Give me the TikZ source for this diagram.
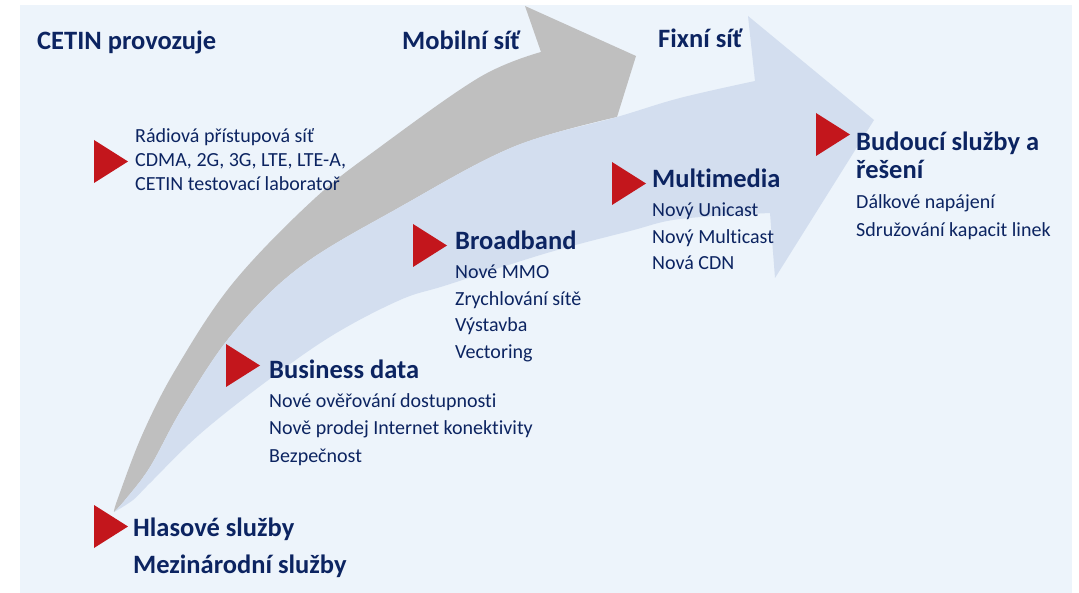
\documentclass[tikz,border=0pt]{standalone}
\usepackage{fontspec}
\setmainfont{Carlito}[Ligatures=NoCommon]
\definecolor{bgblue}{HTML}{EDF4FB}
\definecolor{arrblue}{HTML}{D3DEEF}
\definecolor{arrgray}{HTML}{BFBFBF}
\definecolor{markred}{HTML}{C3161C}
\definecolor{navy}{HTML}{0C2461}
\tikzset{
  head/.style={anchor=base west, inner sep=0pt, text=navy, font=\bfseries\fontsize{26.5}{30}\selectfont},
  item/.style={anchor=base west, inner sep=0pt, text=navy, font=\fontsize{20}{24}\selectfont},
}
\newcommand{\redtri}[2]{\fill[markred] (#1,#2) -- ++(34,21.5) -- ++(-34,21.5) -- cycle;}
\begin{document}
\begin{tikzpicture}[x=1pt,y=-1pt]
\useasboundingbox (0,0) rectangle (1079,593);
\fill[white] (0,0) rectangle (1079,593);
\fill[bgblue] (20,5) rectangle (1072,593);
% gray arrow
\fill[arrgray] (114,512) -- plot[smooth, tension=0.6] coordinates {(114,512) (118,498) (143,433) (177,367) (233,283) (313,200) (380,147) (480,77) (541,52)}
  -- (525,6) -- (636,56) -- (617,117)
  -- plot[smooth, tension=0.6] coordinates {(617,117) (513,147) (400,207) (300,267) (233,333) (183,407) (150,467) (125,500) (114,512)} -- cycle;
% blue arrow
\fill[arrblue] (114,512) -- plot[smooth, tension=0.6] coordinates {(114,512) (125,500) (150,467) (183,407) (233,333) (300,267) (400,207) (513,147) (617,117) (680,98) (755,81)}
  -- (748,16) -- (874,120) -- (775,278) -- (770,213)
  -- plot[smooth, tension=0.6] coordinates {(770,213) (680,219) (630,231) (547,253) (447,285) (400,300) (333,335) (267,381) (200,434) (150,483) (133,500) (114,512)} -- cycle;
% red markers
\redtri{94}{140}
\redtri{94}{505}
\redtri{226}{344}
\redtri{413}{224}
\redtri{612}{162}
\redtri{816}{113}
% top headings
\node[head] (cetin) at (37,50) {CETIN provozuje};
\node[head] (mobil) at (402,50) {Mobilní síť};
\node[head] (fix) at (658,48) {Fixní síť};
% radio
\node[item] (r1) at (135,143) {Rádiová přístupová síť};
\node[item] (r2) at (135,167) {CDMA, 2G, 3G, LTE, LTE-A,};
\node[item] (r3) at (135,191) {CETIN testovací laboratoř};
% business data
\node[head] (bd) at (269,379) {Business data};
\node[item] (bd1) at (269,408) {Nové ověřování dostupnosti};
\node[item] (bd2) at (269,435) {Nově prodej Internet konektivity};
\node[item] (bd3) at (269,462) {Bezpečnost};
% broadband
\node[head] (bb) at (455,250) {Broadband};
\node[item] (bb1) at (455,279) {Nové MMO};
\node[item] (bb2) at (455,306) {Zrychlování sítě};
\node[item] (bb3) at (455,332) {Výstavba};
\node[item] (bb4) at (455,359) {Vectoring};
% multimedia
\node[head] (mm) at (652,188) {Multimedia};
\node[item] (mm1) at (652,217) {Nový Unicast};
\node[item] (mm2) at (652,244) {Nový Multicast};
\node[item] (mm3) at (652,270) {Nová CDN};
% future
\node[head] (fu1) at (856,151) {Budoucí služby a};
\node[head] (fu2) at (856,179) {řešení};
\node[item] (fu3) at (856,209) {Dálkové napájení};
\node[item] (fu4) at (856,237) {Sdružování kapacit linek};
% voice
\node[head] (hl1) at (133,536) {Hlasové služby};
\node[head] (hl2) at (133,573) {Mezinárodní služby};
\end{tikzpicture}
\end{document}
